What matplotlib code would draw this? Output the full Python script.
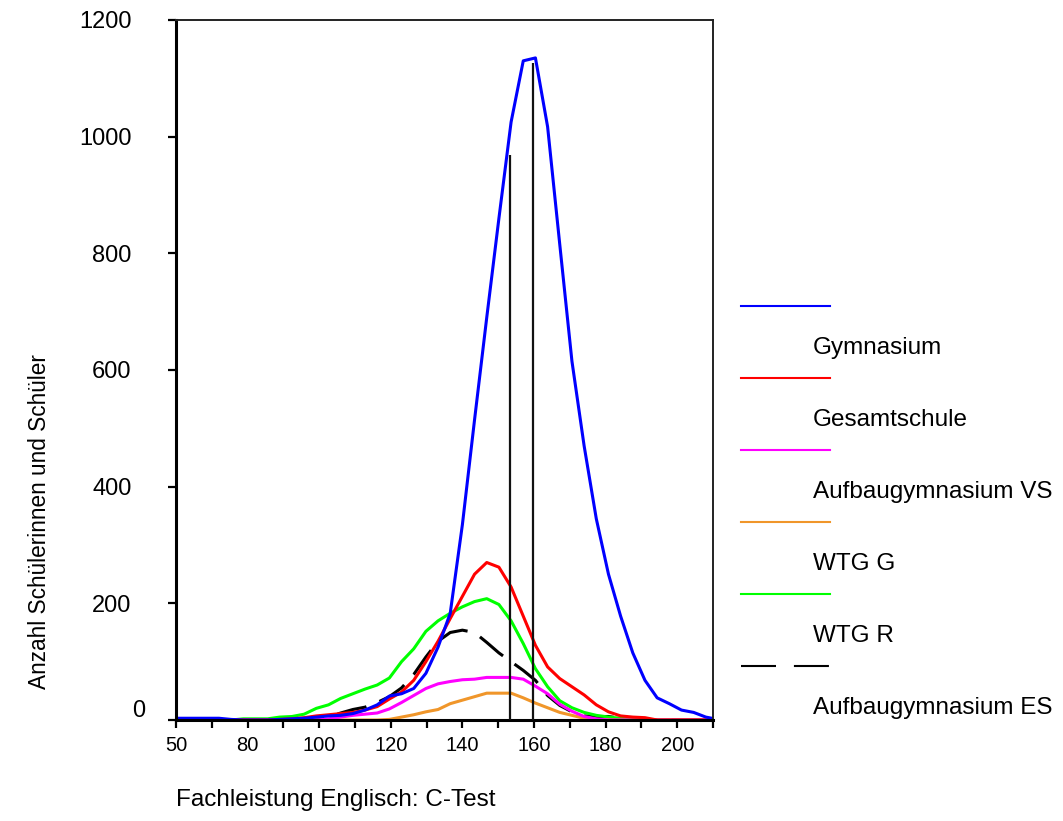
import matplotlib
matplotlib.use("Agg")
import numpy as np
import matplotlib.pyplot as plt
from matplotlib.lines import Line2D
from matplotlib.transforms import ScaledTranslation

plt.rcParams['font.family'] = ['Liberation Sans', 'DejaVu Sans']

# ---------------- data ----------------
X = [58.4, 61.8, 65.2, 68.6, 72.0, 75.4, 78.8, 82.2, 85.6, 89.0, 92.4, 95.8,
     99.2, 102.6, 106.0, 109.4, 112.8, 116.2, 119.6, 123.0, 126.4, 129.8,
     133.2, 136.6, 140.0, 143.4, 146.8, 150.2, 153.6, 157.0, 160.4, 163.8,
     167.2, 170.6, 174.0, 177.4, 180.8, 184.2, 187.6, 191.0, 194.4, 197.8,
     201.2, 204.6, 208.0, 211.4]

gymnasium = [3, 3, 3, 3, 3, 1, 0, 0, 0, 1, 2, 3,
             5, 7, 8, 11, 17, 26, 41, 45, 54, 80,
             125, 183, 335, 515, 690, 860, 1025, 1130, 1135, 1017,
             815, 615, 470, 345, 250, 178, 115, 68, 38, 28,
             17, 13, 5, 1]
gesamtschule = [0, 0, 0, 0, 0, 0, 0, 0, 0, 1, 2, 4,
                7, 9, 11, 13, 17, 23, 36, 48, 68, 100,
                135, 174, 212, 250, 270, 262, 228, 178, 128, 91,
                71, 57, 43, 26, 14, 7, 5, 4, 0, 0,
                0, 0, 0, 0]
aufbau_vs = [0, 0, 0, 0, 0, 0, 0, 0, 0, 0, 0, 0,
             0, 2, 5, 8, 10, 12, 19, 30, 42, 54,
             62, 66, 69, 70, 73, 73, 73, 70, 58, 45,
             27, 15, 6, 2, 0, 0, 0, 0, 0, 0,
             0, 0, 0, 0]
wtg_g = [0, 0, 0, 0, 0, 0, 0, 0, 0, 0, 0, 0,
         0, 0, 0, 0, 0, 0, 1, 5, 9, 14,
         18, 28, 34, 40, 46, 46, 46, 38, 29, 21,
         13, 8, 3, 1, 0, 0, 0, 0, 0, 0,
         0, 0, 0, 0]
wtg_r = [0, 0, 0, 0, 0, 0, 2, 2, 2, 5, 6, 10,
         20, 26, 37, 45, 53, 60, 72, 100, 122, 152,
         170, 183, 194, 203, 208, 198, 170, 131, 88, 57,
         33, 21, 13, 8, 5, 3, 1, 0, 0, 0,
         0, 0, 0, 0]
aufbau_es = [0, 0, 0, 0, 0, 0, 0, 0, 0, 0, 0, 0,
             0, 5, 12, 18, 22, 30, 40, 55, 78, 108,
             135, 150, 154, 150, 133, 115, 100, 85, 68, 42,
             25, 14, 7, 6, 6, 3, 0, 0, 0, 0,
             0, 0, 0, 0]

mean_x = [153.3, 159.7]
mean_top = [968, 1127]

labels = ['Gymnasium', 'Gesamtschule', 'Aufbaugymnasium VS', 'WTG G', 'WTG R',
          'Aufbaugymnasium ES']
series = [gymnasium, gesamtschule, aufbau_vs, wtg_g, wtg_r, aufbau_es]
colors = ['#0000FF', '#FF0000', '#FF00FF', '#F0962A', '#00FF00', '#000000']

x_ticks = [60, 70, 80, 90, 100, 110, 120, 130, 140, 150, 160, 170, 180, 190, 200, 210]
x_ticklabels = ['50', '', '80', '', '100', '', '120', '', '140', '', '160', '',
                '180', '', '200', '']
y_ticks = [0, 200, 400, 600, 800, 1000, 1200]

# ---------------- figure ----------------
W, H = 1063, 821
fig = plt.figure(figsize=(W / 100, H / 100), dpi=100)
L, R, T, B = 176, 713, 20, 720
ax = fig.add_axes([L / W, 1 - B / H, (R - L) / W, (B - T) / H])
ax.set_xlim(60, 210)
ax.set_ylim(0, 1200)

LW = 2.2
DASH_ON, DASH_OFF = 9.8, 4.6   # in units of line width
lines = {}
for i in reversed(range(len(series))):
    ln, = ax.plot(X, series[i], color=colors[i], lw=LW, zorder=2 + (5 - i) * 0.01,
                  solid_joinstyle='round')
    lines[i] = ln

# phase the dashed series so a dash begins just right of its peak (as in the reference)
pts = ax.transData.transform(np.column_stack([X, aufbau_es]))
seg = np.hypot(np.diff(pts[:, 0]), np.diff(pts[:, 1]))
cum = np.concatenate([[0], np.cumsum(seg)])
target_x = ax.transData.transform((144.9, 0))[0]
L_target = np.interp(target_x, pts[:, 0], cum) * 72 / 100 / LW   # in lw units
period = DASH_ON + DASH_OFF
offset = (-L_target) % period
lines[5].set_linestyle((offset, (DASH_ON, DASH_OFF)))

ax.vlines(mean_x, [0, 0], mean_top, color='#111111', lw=1.6, zorder=3)

ax.set_xticks(x_ticks)
ax.set_xticklabels(x_ticklabels)
ax.set_yticks(y_ticks)
ax.set_yticklabels([str(v) for v in y_ticks])

for s in ['left', 'bottom']:
    ax.spines[s].set_linewidth(2.2)
    ax.spines[s].set_color('black')
for s in ['top', 'right']:
    ax.spines[s].set_linewidth(1.4)
    ax.spines[s].set_color('#222222')

ax.tick_params(axis='x', direction='out', length=6, width=1.6, pad=5.5,
               labelsize=14.5, colors='black')
ax.tick_params(axis='y', direction='out', length=6, width=1.6, pad=26,
               labelsize=17, colors='black')

# the "0" label sits lower-right in the reference
lbl0 = ax.get_yticklabels()[0]
lbl0.set_transform(lbl0.get_transform() + ScaledTranslation(0.14, 0.12, fig.dpi_scale_trans))

fig.text(L / W, 1 - 800 / H, 'Fachleistung Englisch: C-Test', ha='left', va='center',
         fontsize=17.5)
fig.text(40 / W, 1 - 522 / H, 'Anzahl Schülerinnen und Schüler', rotation=90,
         ha='center', va='center', fontsize=16.3)

# ---------------- legend (line with label below) ----------------
for i, (lab, c) in enumerate(zip(labels, colors)):
    yl = 306 + 72 * i
    ls = (0, (16.8, 8.6)) if i == 5 else '-'
    fig.add_artist(Line2D([741 / W, 830 / W], [1 - yl / H, 1 - yl / H],
                          transform=fig.transFigure, color=c, lw=1.5, ls=ls))
    fig.text(813 / W, 1 - (yl + 42) / H, lab, ha='left', va='center', fontsize=17.5)

fig.savefig('out.png', dpi=100)
